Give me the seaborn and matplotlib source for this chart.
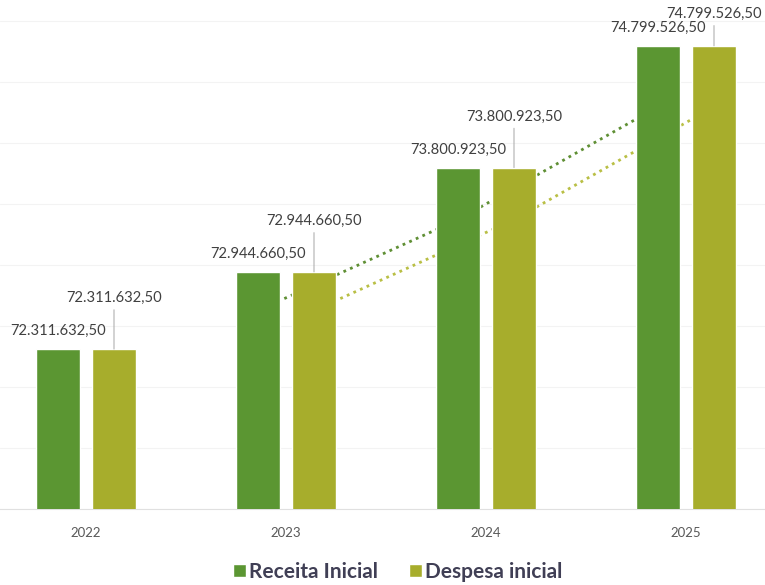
import matplotlib
matplotlib.use('Agg')
import matplotlib.pyplot as plt
import seaborn as sns
import pandas as pd
import numpy as np

# Chart values
years = ['2022', '2023', '2024', '2025']
receita = [72311632.50, 72944660.50, 73800923.50, 74799526.50]
despesa = [72311632.50, 72944660.50, 73800923.50, 74799526.50]
series_names = ['Receita Inicial', 'Despesa inicial']

colors = {'Receita Inicial': '#5b9632', 'Despesa inicial': '#a7ad2c'}
trend_colors = {'Receita Inicial': '#5f8f34', 'Despesa inicial': '#b9bf45'}

data = pd.DataFrame({
    'Ano': years * 2,
    'Serie': [series_names[0]] * len(years) + [series_names[1]] * len(years),
    'Valor': receita + despesa,
})

def fmt_br(v):
    s = f'{v:,.2f}'
    return s.replace(',', 'X').replace('.', ',').replace('X', '.')

sns.set_theme(style='white')
plt.rcParams['font.family'] = ['Lato', 'DejaVu Sans']

fig = plt.figure(figsize=(7.65, 5.85), dpi=100)
ax = fig.add_axes([0.0, 0.13, 1.0, 0.87])

sns.barplot(data=data, x='Ano', y='Valor', hue='Serie', palette=colors,
            width=0.56, gap=0.2, dodge=True, saturation=1, ax=ax, zorder=3)

# 2-period moving average trend lines, drawn behind the bars
offsets = {'Receita Inicial': -0.14, 'Despesa inicial': 0.14}
for name, vals in zip(series_names, [receita, despesa]):
    ma = pd.Series(vals).rolling(2).mean()
    xs = np.arange(len(vals)) + offsets[name]
    ax.plot(xs[1:], ma[1:], linestyle=(0, (1, 1.6)), linewidth=2.0,
            color=trend_colors[name], zorder=2)

# Value labels
for i, v in enumerate(receita):
    ax.annotate(fmt_br(v), xy=(i - 0.14, v), xytext=(0, 18),
                textcoords='offset pixels', ha='center', va='center',
                fontsize=10.6, color='#404040', zorder=5)
for i, v in enumerate(despesa):
    dy = 32 if i == len(despesa) - 1 else 51
    ax.annotate(fmt_br(v), xy=(i + 0.14, v), xytext=(0, dy),
                textcoords='offset pixels', ha='center', va='center',
                fontsize=10.6, color='#404040', zorder=5,
                arrowprops=dict(arrowstyle='-', color='#a6a6a6', lw=0.7,
                                shrinkA=1, shrinkB=0))

ax.set_xlim(-0.43, 3.395)
ax.set_ylim(71000000, 75176000)
ax.set_yticks(np.arange(71000000, 75100000, 500000))
ax.yaxis.grid(True, color='#f3f3f3', linewidth=0.8, zorder=0)
ax.set_axisbelow(True)
ax.tick_params(axis='y', left=False, labelleft=False)
ax.tick_params(axis='x', bottom=False, labelsize=9.5, colors='#595959', pad=7)
for side in ['top', 'right', 'left']:
    ax.spines[side].set_visible(False)
ax.spines['bottom'].set_color('#e0e0e0')
ax.spines['bottom'].set_linewidth(0.8)
ax.set_xlabel('')
ax.set_ylabel('')

handles, labels = ax.get_legend_handles_labels()
ax.legend(handles, labels, loc='center', bbox_to_anchor=(0.52, 0.022),
          bbox_transform=fig.transFigure, ncol=2, frameon=False,
          handlelength=0.6, handleheight=0.6, handletextpad=0.15,
          columnspacing=1.5,
          prop={'family': ['Lato', 'DejaVu Sans'], 'weight': 'bold', 'size': 15},
          labelcolor='#403f55')

fig.savefig('out.png', dpi=100)
